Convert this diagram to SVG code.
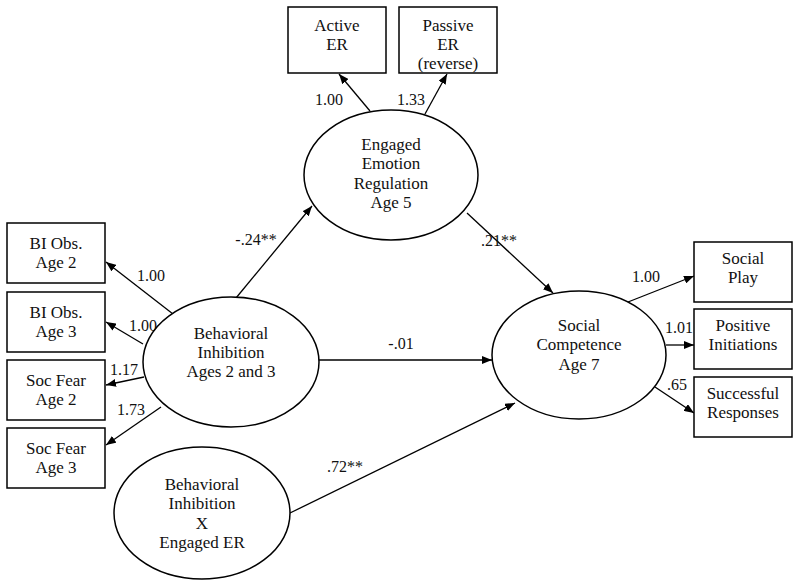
<svg xmlns="http://www.w3.org/2000/svg" width="800" height="588" viewBox="0 0 800 588">
<defs>
<marker id="ah" viewBox="0 0 10 8" refX="10" refY="4" markerWidth="10" markerHeight="8" markerUnits="userSpaceOnUse" orient="auto">
<path d="M0,0 L10,4 L0,8 z" fill="#000"/>
</marker>
</defs>
<style>
text{font-family:"Liberation Serif","Times New Roman",serif;font-size:17px;fill:#111;text-anchor:middle}
.box{fill:#fff;stroke:#000;stroke-width:1.5}
.ell{fill:#fff;stroke:#000;stroke-width:1.5}
.c line{stroke:#000;stroke-width:1.3;marker-end:url(#ah)}
.lbl{font-size:16px}
</style>
<rect width="800" height="588" fill="#fff"/>
<g class="c" id="connectors">
<line x1="173" y1="314" x2="106" y2="262"/>
<line x1="143" y1="344" x2="106" y2="322"/>
<line x1="144" y1="377" x2="106" y2="385"/>
<line x1="161" y1="407" x2="106" y2="445"/>
<line x1="370" y1="111" x2="339" y2="74"/>
<line x1="425" y1="114" x2="447" y2="74"/>
<line x1="236" y1="298" x2="312" y2="206"/>
<line x1="467" y1="213" x2="553" y2="293"/>
<line x1="318" y1="360" x2="492" y2="360"/>
<line x1="290" y1="513" x2="515" y2="403"/>
<line x1="628" y1="302" x2="694" y2="276"/>
<line x1="666" y1="345" x2="694" y2="345"/>
<line x1="655" y1="387" x2="694" y2="413"/>
<text class="lbl" x="151" y="281">1.00</text>
<text class="lbl" x="143" y="331">1.00</text>
<text class="lbl" x="124" y="375">1.17</text>
<text class="lbl" x="131" y="415">1.73</text>
<text class="lbl" x="329" y="105">1.00</text>
<text class="lbl" x="411" y="105">1.33</text>
<text class="lbl" x="256" y="245">-.24**</text>
<text class="lbl" x="499" y="246">.21**</text>
<text class="lbl" x="401" y="349">-.01</text>
<text class="lbl" x="345" y="472">.72**</text>
<text class="lbl" x="646" y="282">1.00</text>
<text class="lbl" x="679" y="333">1.01</text>
<text class="lbl" x="677" y="390">.65</text>
</g>
<g id="bi-obs-2"><rect class="box" x="7" y="223" width="98" height="60"/><text x="56" y="249">BI Obs.</text><text x="56" y="268">Age 2</text></g>
<g id="bi-obs-3"><rect class="box" x="7" y="292" width="98" height="60"/><text x="56" y="318">BI Obs.</text><text x="56" y="337">Age 3</text></g>
<g id="soc-fear-2"><rect class="box" x="7" y="360" width="98" height="60"/><text x="56" y="386">Soc Fear</text><text x="56" y="405">Age 2</text></g>
<g id="soc-fear-3"><rect class="box" x="7" y="428" width="98" height="60"/><text x="56" y="454">Soc Fear</text><text x="56" y="473">Age 3</text></g>
<g id="active-er"><rect class="box" x="288" y="7" width="98" height="66"/><text x="337" y="31">Active</text><text x="337" y="50">ER</text></g>
<g id="passive-er"><rect class="box" x="399" y="7" width="98" height="66"/><text x="448" y="31">Passive</text><text x="448" y="50">ER</text><text x="448" y="69">(reverse)</text></g>
<g id="social-play"><rect class="box" x="694" y="242" width="98" height="60"/><text x="743" y="264">Social</text><text x="743" y="283">Play</text></g>
<g id="positive-init"><rect class="box" x="694" y="309" width="98" height="60"/><text x="743" y="331">Positive</text><text x="743" y="350">Initiations</text></g>
<g id="successful-resp"><rect class="box" x="694" y="377" width="98" height="60"/><text x="743" y="399">Successful</text><text x="743" y="418">Responses</text></g>
<g id="engaged-er"><ellipse class="ell" cx="391" cy="175" rx="87" ry="65"/><text x="391" y="150">Engaged</text><text x="391" y="169">Emotion</text><text x="391" y="189">Regulation</text><text x="391" y="208">Age 5</text></g>
<g id="behavioral-inhibition"><ellipse class="ell" cx="231" cy="362" rx="88" ry="65"/><text x="231" y="339">Behavioral</text><text x="231" y="358">Inhibition</text><text x="231" y="377">Ages 2 and 3</text></g>
<g id="social-competence"><ellipse class="ell" cx="579" cy="355" rx="87" ry="64"/><text x="579" y="331">Social</text><text x="579" y="350">Competence</text><text x="579" y="370">Age 7</text></g>
<g id="bi-x-er"><ellipse class="ell" cx="202" cy="513" rx="88" ry="66"/><text x="202" y="490">Behavioral</text><text x="202" y="509">Inhibition</text><text x="202" y="529">X</text><text x="202" y="548">Engaged ER</text></g>
</svg>
